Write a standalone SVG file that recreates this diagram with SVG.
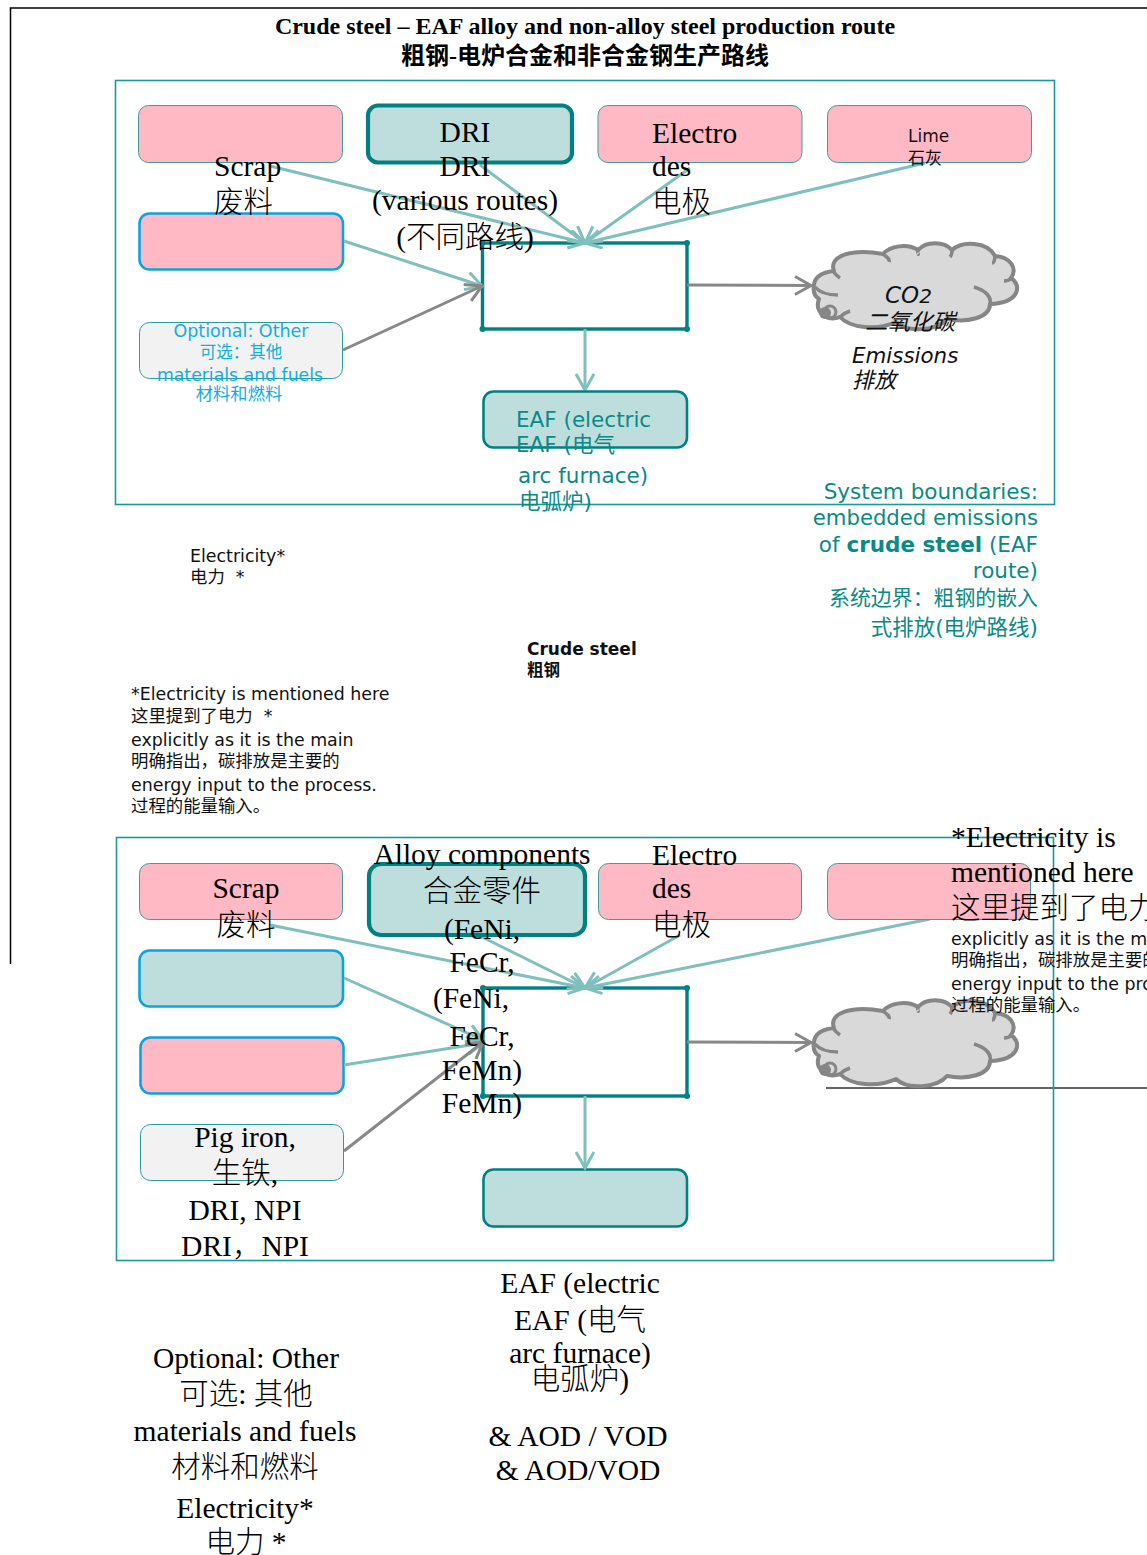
<svg xmlns="http://www.w3.org/2000/svg" xmlns:xlink="http://www.w3.org/1999/xlink" width="1147" height="1555" viewBox="0 0 1147 1555">
<style>
text{white-space:pre}
.s{font-family:"Liberation Serif","Noto Sans CJK SC",serif;font-size:29.5px;font-weight:300;fill:#000}
.d{font-family:"DejaVu Sans","Noto Sans CJK SC",sans-serif;font-size:17.4px;fill:#111}
.m{text-anchor:middle}
.e{text-anchor:end}
.teal{fill:#0a8a86;font-size:21.5px}
.blue{fill:#10aee2;font-size:17.5px}
.i{font-style:italic}
.panel{fill:none;stroke:#179a9a;stroke-width:1.6}
.pink{fill:#ffb9c5;stroke:#3c9c9f;stroke-width:1;}
.pinkb{fill:#ffb9c5;stroke:#0aa5df;stroke-width:2.6}
.tealb{fill:#bddedd;stroke:#0aa5df;stroke-width:2.6}
.key{fill:#bddedd;stroke:#008080;stroke-width:4.2}
.eaf{fill:#bddedd;stroke:#008080;stroke-width:2.6}
.opt{fill:#f2f2f2;stroke:#2b9c9c;stroke-width:1}
.proc{fill:#fff;stroke:#008080;stroke-width:3.4}
.c{fill:none;stroke:#7fbfbd;stroke-width:3;marker-end:url(#ah)}
.g{fill:none;stroke:#888;stroke-width:3;marker-end:url(#ag)}
.dot{fill:#008080}
.cloud{fill:#d9d9d9;stroke:#868686;stroke-width:4;stroke-linejoin:round}
.inner{fill:none;stroke:#868686;stroke-width:3.5}
</style>
<defs>
<marker id="ah" markerUnits="userSpaceOnUse" markerWidth="24" markerHeight="24" refX="18" refY="10" orient="auto"><path d="M2 1L18 10L2 19" fill="none" stroke="#7fbfbd" stroke-width="3"/></marker>
<marker id="ag" markerUnits="userSpaceOnUse" markerWidth="24" markerHeight="24" refX="18" refY="10" orient="auto"><path d="M2 1L18 10L2 19" fill="none" stroke="#888" stroke-width="3"/></marker>
<g id="cloudshape">
<path class="cloud" d="M814 285C815 275 824 272 834 271C828 256 852 248 883 254C890 246 907 243 918 250C926 241 944 241 952 250C962 241 987 241 995 256C1010 257 1018 268 1011 278C1022 285 1020 303 990 304C990 318 967 323 947 319C937 331 907 333 896 322C877 331 850 328 840 317C827 322 814 312 819 299C813 295 813 290 814 285Z"/>
<path class="inner" d="M815 287C820 293 828 295 838 295M833 271C835 274 837 276 840 278M883 254C887 257 890 259 889 262M918 250C917 253 919 255 918 254M952 250C952 254 951 256 950 257M995 256C995 259 994 263 992 263M1011 278C1009 281 1006 281 1004 281M974 287C984 290 992 296 990 304M840 317C843 314 847 312 850 311"/>
<circle cx="830" cy="312" r="6" fill="none" stroke="#868686" stroke-width="3"/>
<circle cx="825" cy="313" r="6" fill="#868686"/>
</g>
</defs>
<g id="frame">
<path d="M10.5 964V8H1147" fill="none" stroke="#000" stroke-width="1.5"/>
<path d="M826 1088H1147" fill="none" stroke="#333" stroke-width="1.5"/>
<rect class="panel" x="115.5" y="80.5" width="939" height="424"/>
<rect class="panel" x="116.5" y="837.5" width="937" height="423"/>
</g>
<g id="title">
<text class="s m" x="585" y="34" style="font-size:24px;font-weight:bold">Crude steel – EAF alloy and non-alloy steel production route</text>
<text class="s m" x="585" y="64" style="font-size:24px;font-weight:bold">粗钢-电炉合金和非合金钢生产路线</text>
</g>
<g id="proc1"><rect class="proc" x="482.500" y="243" width="204.500" height="86"/><circle class="dot" cx="482.500" cy="243" r="3"/><circle class="dot" cx="687" cy="243" r="3"/><circle class="dot" cx="482.500" cy="329" r="3"/><circle class="dot" cx="687" cy="329" r="3"/></g>
<g id="proc2"><rect class="proc" x="483" y="988" width="204" height="108"/><circle class="dot" cx="483" cy="988" r="3"/><circle class="dot" cx="687" cy="988" r="3"/><circle class="dot" cx="483" cy="1096" r="3"/><circle class="dot" cx="687" cy="1096" r="3"/></g>
<g id="blue1"><rect class="pinkb" x="139.500" y="213.500" width="203.500" height="56" rx="10"/></g>
<g id="blue2a"><rect class="tealb" x="139.500" y="950.500" width="203.500" height="56" rx="10"/></g>
<g id="blue2b"><rect class="pinkb" x="140.500" y="1037.500" width="203" height="56" rx="10"/></g>
<g id="eaf2"><rect class="eaf" x="483.500" y="1169.500" width="203.500" height="57" rx="10"/></g>
<g id="connectors">
<path class="c" d="M270 166L585 243"/>
<path class="c" d="M480 165L585 243"/>
<path class="c" d="M690 168L585 243"/>
<path class="c" d="M925 163L585 243"/>
<path class="c" d="M344 241L482 286"/>
<path class="g" d="M343 350L482 286"/>
<path class="c" d="M585 329V390"/>
<path class="g" d="M687 285L811 285.500"/>
<path class="c" d="M270 925L585 988"/>
<path class="c" d="M478 935L585 988"/>
<path class="c" d="M680 935L585 988"/>
<path class="c" d="M930 919L585 988"/>
<path class="c" d="M344 978L483 1040"/>
<path class="c" d="M344 1065L483 1043"/>
<path class="g" d="M344 1151L483 1042"/>
<path class="c" d="M585 1096V1168"/>
<path class="g" d="M687 1042L811 1042.500"/>
</g>
<g id="scrap1"><rect class="pink" x="138.500" y="105.500" width="204" height="57" rx="10"/><text class="s" x="214" y="176">Scrap</text><text class="s" x="214" y="212">废料</text></g>
<g id="dri"><rect class="key" x="368" y="105.500" width="204" height="57" rx="10"/><text class="s m" x="465" y="142">DRI</text><text class="s m" x="465" y="176">DRI</text><text class="s m" x="465" y="210">(various routes)</text><text class="s m" x="465" y="247">(不同路线)</text></g>
<g id="electrodes1"><rect class="pink" x="598" y="105.500" width="204" height="57" rx="10"/><text class="s" x="652" y="143">Electro</text><text class="s" x="652" y="176">des</text><text class="s" x="652" y="212">电极</text></g>
<g id="lime"><rect class="pink" x="827.500" y="105.500" width="204" height="57" rx="10"/><text class="d" x="908" y="142" style="font-size:17px">Lime</text><text class="d" x="908" y="164" style="font-size:17px">石灰</text></g>
<g id="optional1"><rect class="opt" x="139.500" y="322.500" width="203" height="56" rx="10"/><text class="d m blue" x="241" y="337">Optional: Other</text><text class="d m blue" x="241" y="358" style="font-size:16.500px">可选：其他</text><text class="d m blue" x="240" y="381" style="font-size:17.300px">materials and fuels</text><text class="d m blue" x="239" y="400" style="font-size:17.300px">材料和燃料</text></g>
<g id="eaf1"><rect class="eaf" x="483.500" y="391.500" width="203.500" height="56" rx="10"/><text class="d teal" x="516" y="427">EAF (electric</text><text class="d teal" x="516" y="452">EAF (电气</text><text class="d teal" x="518" y="483">arc furnace)</text><text class="d teal" x="519" y="509">电弧炉)</text></g>
<g id="cloud1"><use href="#cloudshape" xlink:href="#cloudshape"/><text class="d i" x="885" y="303" style="font-size:23px">CO<tspan style="font-size:20px">2</tspan></text><text class="d i m" x="910" y="330" style="font-size:22.500px">二氧化碳</text><text class="d i" x="852" y="363" style="font-size:21.400px">Emissions</text><text class="d i" x="852" y="388" style="font-size:22px">排放</text></g>
<g id="boundaries"><text class="d e teal" x="1038" y="499">System boundaries:</text><text class="d e teal" x="1038" y="525" style="font-size:21.200px">embedded emissions</text><text class="d e teal" x="1038" y="552">of <tspan font-weight="bold">crude steel</tspan> (EAF</text><text class="d e teal" x="1038" y="578">route)</text><text class="d e teal" x="1038" y="605" style="font-size:20.900px">系统边界：粗钢的嵌入</text><text class="d e teal" x="1038" y="635">式排放(电炉路线)</text></g>
<g id="electricity1"><text class="d" x="190" y="562">Electricity*</text><text class="d" x="190" y="583">电力  *</text></g>
<g id="crude"><text class="d" x="527" y="655" font-weight="bold" style="font-size:17px">Crude steel</text><text class="d" x="527" y="676" font-weight="bold" style="font-size:16.500px">粗钢</text></g>
<g id="note1"><text class="d" x="131" y="700">*Electricity is mentioned here</text><text class="d" x="131" y="722">这里提到了电力  *</text><text class="d" x="131" y="746">explicitly as it is the main</text><text class="d" x="131" y="767">明确指出，碳排放是主要的</text><text class="d" x="131" y="791">energy input to the process.</text><text class="d" x="131" y="812">过程的能量输入。</text></g>
<g id="scrap2"><rect class="pink" x="139.500" y="863.500" width="203" height="56" rx="10"/><text class="s m" x="246" y="898">Scrap</text><text class="s m" x="246" y="935">废料</text></g>
<g id="alloy"><rect class="key" x="369" y="864" width="216" height="71" rx="12"/><text class="s m" x="482" y="864">Alloy components</text><text class="s m" x="482" y="901">合金零件</text><text class="s m" x="482" y="939">(FeNi,</text><text class="s m" x="482" y="972">FeCr,</text><text class="s m" x="471" y="1008">(FeNi,</text><text class="s m" x="482" y="1046">FeCr,</text><text class="s m" x="482" y="1080">FeMn)</text><text class="s m" x="482" y="1113">FeMn)</text></g>
<g id="electrodes2"><rect class="pink" x="598.500" y="863.500" width="203" height="56" rx="10"/><text class="s" x="652" y="865">Electro</text><text class="s" x="652" y="898">des</text><text class="s" x="652" y="935">电极</text></g>
<g id="lime2"><rect class="pink" x="827.500" y="863.500" width="203" height="56" rx="10"/></g>
<g id="pig"><rect class="opt" x="140.500" y="1124.500" width="203" height="56" rx="10"/><text class="s m" x="245" y="1147">Pig iron,</text><text class="s m" x="245" y="1183">生铁,</text><text class="s m" x="245" y="1220">DRI, NPI</text><text class="s m" x="245" y="1256">DRI，NPI</text></g>
<g id="cloud2"><use href="#cloudshape" xlink:href="#cloudshape" y="757"/></g>
<g id="note2"><text class="s" x="951" y="847">*Electricity is</text><text class="s" x="951" y="882">mentioned here</text><text class="s" x="951" y="918">这里提到了电力 *</text><text class="d" x="951" y="945">explicitly as it is the main</text><text class="d" x="951" y="966">明确指出，碳排放是主要的</text><text class="d" x="951" y="990">energy input to the process.</text><text class="d" x="951" y="1011">过程的能量输入。</text></g>
<g id="eaf2label"><text class="s m" x="580" y="1293">EAF (electric</text><text class="s m" x="580" y="1330">EAF (电气</text><text class="s m" x="580" y="1363">arc furnace)</text><text class="s m" x="580" y="1389">电弧炉)</text><text class="s m" x="578" y="1446">&amp; AOD / VOD</text><text class="s m" x="578" y="1480">&amp; AOD/VOD</text></g>
<g id="optional2"><text class="s m" x="246" y="1368">Optional: Other</text><text class="s m" x="246" y="1404">可选: 其他</text><text class="s m" x="245" y="1441">materials and fuels</text><text class="s m" x="245" y="1477">材料和燃料</text></g>
<g id="electricity2"><text class="s m" x="245" y="1518">Electricity*</text><text class="s m" x="246" y="1552">电力 *</text></g>
</svg>
